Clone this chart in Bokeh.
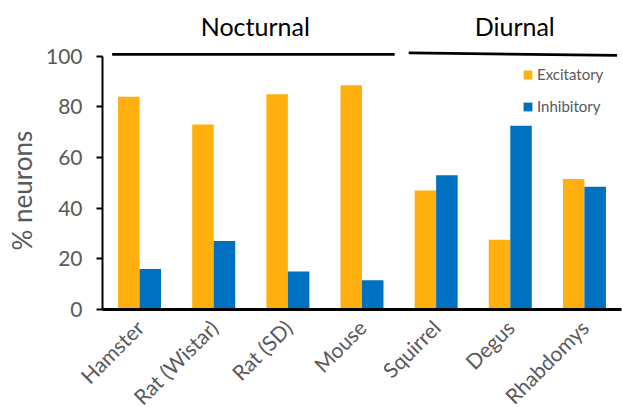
import math
from bokeh.plotting import figure
from bokeh.models import FactorRange, Range1d, Legend, LegendItem, Label, Title, ColumnDataSource
from bokeh.transform import dodge
from bokeh.embed import file_html
from bokeh.resources import INLINE

# ---- data ----
species = ["Hamster", "Rat (Wistar)", "Rat (SD)", "Mouse", "Squirrel", "Degus", "Rhabdomys"]
excitatory = [84, 73, 85, 88.5, 47, 27.5, 51.5]
inhibitory = [16, 27, 15, 11.5, 53, 72.5, 48.5]
group_names = ["Nocturnal", "Diurnal"]
group_sizes = [4, 3]
group_line_y0 = [100.75, 101.3]
group_line_y1 = [100.75, 100.3]
y_ticks = [0, 20, 40, 60, 80, 100]

FONT = "Lato"
GREY = "#595959"
ORANGE = "#FFB00F"
BLUE = "#0070C0"

src = ColumnDataSource(dict(species=species, exc=excitatory, inh=inhibitory))

p = figure(width=622, height=420, output_backend="svg", toolbar_location=None,
           x_range=FactorRange(*species), y_range=Range1d(0, 122),
           min_border_left=101, min_border_right=1, min_border_top=0, min_border_bottom=111)
p.outline_line_color = None
p.xgrid.grid_line_color = None
p.ygrid.grid_line_color = None

r1 = p.vbar(x=dodge("species", -0.145, range=p.x_range), top="exc", width=0.29,
            source=src, fill_color=ORANGE, line_color=None)
r2 = p.vbar(x=dodge("species", 0.145, range=p.x_range), top="inh", width=0.29,
            source=src, fill_color=BLUE, line_color=None)

# axes
p.yaxis.bounds = (0, 100)
p.yaxis.ticker = y_ticks
p.yaxis.minor_tick_line_color = None
p.yaxis.major_tick_in = 0
p.yaxis.major_tick_out = 6
p.yaxis.axis_line_width = 2
p.yaxis.major_tick_line_width = 2
p.yaxis.axis_line_color = "black"
p.yaxis.major_tick_line_color = "black"
p.yaxis.major_label_text_font = FONT
p.yaxis.major_label_text_font_size = "21px"
p.yaxis.major_label_text_color = GREY
p.yaxis.major_label_standoff = 14

# y-axis title as a side title so it can sit where the reference has it
p.add_layout(Title(text="% neurons", align="left", offset=59, standoff=8,
                   vertical_align="middle",
                   text_font=FONT, text_font_size="26px", text_font_style="normal",
                   text_color=GREY), "left")

p.xaxis.axis_line_width = 3
p.xaxis.axis_line_color = "black"
p.xaxis.major_tick_line_color = None
p.xaxis.minor_tick_line_color = None
p.xaxis.major_label_orientation = math.pi / 4
p.xaxis.major_label_text_font = FONT
p.xaxis.major_label_text_font_size = "21px"
p.xaxis.major_label_text_color = GREY
p.xaxis.major_label_standoff = 8

# group brackets and labels
start = 0
for name, n, ya, yb in zip(group_names, group_sizes, group_line_y0, group_line_y1):
    p.segment(x0=[start + 0.13], y0=[ya], x1=[start + n - 0.06], y1=[yb],
              line_color="black", line_width=2.8)
    p.add_layout(Label(x=start + n / 2 + 0.06, y=111.8, text=name,
                       text_font=FONT, text_font_size="25px", text_color="black",
                       text_align="center", text_baseline="alphabetic"))
    start += n

legend = Legend(items=[LegendItem(label="Excitatory", renderers=[r1]),
                       LegendItem(label="Inhibitory", renderers=[r2])],
                location=(420, 194), orientation="vertical",
                glyph_width=11, glyph_height=11, label_height=11,
                spacing=14, padding=0, margin=0, border_line_color=None,
                background_fill_alpha=0,
                label_text_font=FONT, label_text_font_size="15px",
                label_text_color=GREY, label_standoff=4)
p.add_layout(legend)

open("out.html", "w").write(file_html(p, INLINE))
